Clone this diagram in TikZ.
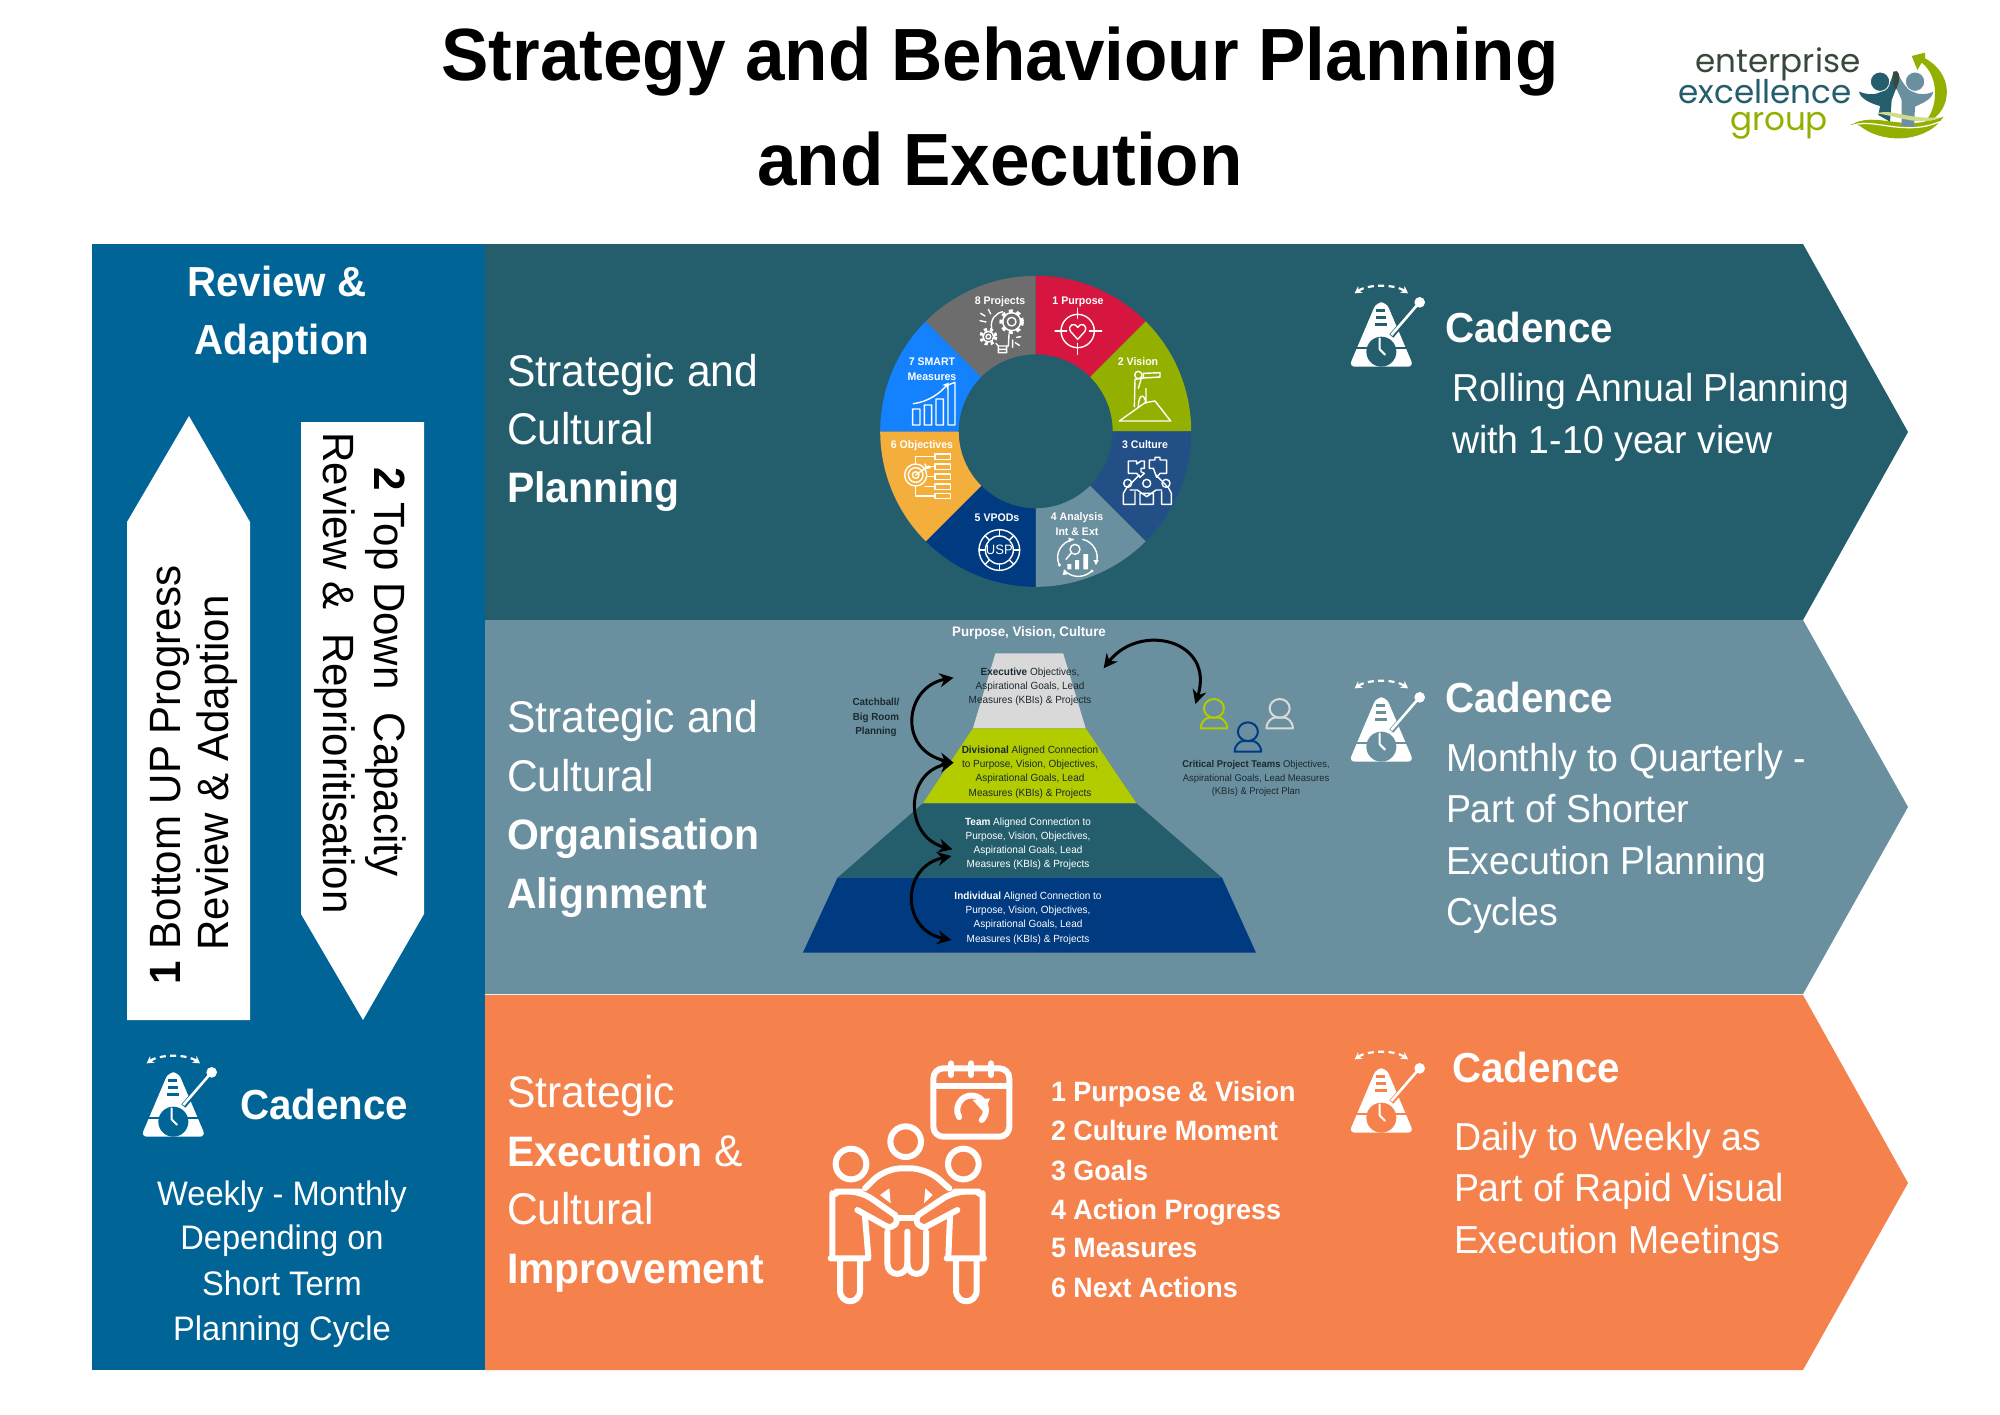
\documentclass[tikz,border=0pt]{standalone}
\usepackage{fontspec}
\setmainfont[FakeStretch=0.96]{Liberation Sans}
\newfontfamily\logofont{Poppins}
\usetikzlibrary{arrows.meta,calc}
\definecolor{leftblue}{HTML}{006496}
\definecolor{bandone}{HTML}{245E6C}
\definecolor{bandtwo}{HTML}{6A8F9F}
\definecolor{bandthree}{HTML}{F5824C}
\definecolor{navy}{HTML}{003A80}
\definecolor{midnavy}{HTML}{234F87}
\definecolor{wred}{HTML}{D6163F}
\definecolor{wgreen}{HTML}{93B000}
\definecolor{wamber}{HTML}{F3AE3C}
\definecolor{wblue}{HTML}{1482FF}
\definecolor{wgrey}{HTML}{6D6D6D}
\definecolor{lime}{HTML}{B2CC00}
\definecolor{pale}{HTML}{D9D9D9}
\definecolor{logodark}{HTML}{36493B}
\definecolor{inkdark}{HTML}{1A2A30}
\newcommand{\hb}[1]{{\fontsize{21.3}{24}\bfseries\selectfont #1}}
\tikzset{
  x=0.5pt,y=-0.5pt,
  base/.style={inner sep=0pt,outer sep=0pt},
  titletext/.style={base,font=\fontsize{37}{40}\bfseries\selectfont,text=black,anchor=mid},
  headtext/.style={base,font=\fontsize{22.2}{24}\selectfont,text=white,anchor=mid west,yshift=-4.6pt},
  cadtext/.style={base,font=\fontsize{21}{24}\bfseries\selectfont,text=white,anchor=mid west,yshift=-4.5pt},
  bodytext/.style={base,font=\fontsize{19.5}{24}\selectfont,text=white,anchor=mid west,yshift=-3.8pt},
  lefttext/.style={base,font=\fontsize{17}{22}\selectfont,text=white,anchor=mid,yshift=-3.4pt},
  listtext/.style={base,font=\fontsize{14}{18}\bfseries\selectfont,text=white,anchor=mid west,yshift=-2.5pt},
  arrowtext/.style={base,font=\fontsize{21.9}{24}\selectfont,text=black,anchor=mid},
  wedgetext/.style={base,font=\fontsize{5.5}{6.5}\bfseries\selectfont,text=white,anchor=mid},
  pyrtext/.style={base,font=\fontsize{5.2}{6}\selectfont,anchor=mid},
  logotext/.style={base,font=\logofont\fontsize{16.3}{18}\selectfont,anchor=base},
  zoomone/.style={shift={(860,260)},x=0.16667pt,y=-0.16667pt},
  zoomtwo/.style={shift={(790,610)},x=0.17857pt,y=-0.16667pt},
  zoomthree/.style={shift={(1660,20)},x=0.16667pt,y=-0.16667pt},
  zoomfive/.style={shift={(800,1040)},x=0.16667pt,y=-0.16667pt},
  iconline/.style={draw=white,line width=0.7pt,line join=round,line cap=round},
  bigicon/.style={draw=white,line width=3pt,line join=round,line cap=round},
  curvearrow/.style={draw=black,line width=1.5pt,{Stealth[length=7pt,width=7pt]}-{Stealth[length=7pt,width=7pt]}},
}
% metronome: drawn in the frame of a 3x crop, #1 = x, #2 = y, #3 = background
\newcommand{\metronome}[3]{%
  \begin{scope}[shift={(#1,#2)},x=0.16667pt,y=-0.16667pt]
    \fill[white,rounded corners=3pt] (145,97) -- (175,97) -- (257,290) -- (63,290) -- cycle;
    \fill[#3] (145,118) rectangle (172,125);
    \fill[#3] (143,139) rectangle (174,146);
    \fill[#3] (140,160) rectangle (178,167);
    \fill[#3] (60,230) rectangle (260,237);
    \draw[#3,line width=2.6pt] (190,198) -- (240,140);
    \fill[#3] (160,245) circle[radius=45];
    \draw[white,line width=1pt,line cap=round,line join=round] (155,205) -- (155,238) -- (171,254);
    \draw[white,line width=1.3pt] (190,195) -- (272,100);
    \fill[white] (275,97) circle[radius=16];
    \draw[white,line width=1.1pt,dash pattern=on 3pt off 2.2pt,{Stealth[length=3.5pt,width=4pt]}-{Stealth[length=3.5pt,width=4pt]}] (80,70) .. controls (120,42) and (200,42) .. (240,70);
  \end{scope}}
\begin{document}
\begin{tikzpicture}
\useasboundingbox (0,0) rectangle (2000,1414);
\fill[white] (0,0) rectangle (2000,1414);
% title
\node[titletext] (title1) at (1000,75.5) {Strategy and Behaviour Planning};
\node[titletext] (title2) at (1000,180.5) {and Execution};
% panels
\fill[leftblue] (92,244) rectangle (485,1370);
\fill[bandone] (485,244) -- (1803,244) -- (1908,432) -- (1803,620) -- (485,620) -- cycle;
\fill[bandtwo] (485,620) -- (1803,620) -- (1908,807) -- (1803,994) -- (485,994) -- cycle;
\fill[bandthree] (485,995) -- (1803,995) -- (1908,1183) -- (1803,1370) -- (485,1370) -- cycle;
% left panel
\node[cadtext,anchor=mid] (rev1) at (277,282) {Review \&};
\node[cadtext,anchor=mid] (rev2) at (282,340) {Adaption};
\fill[white] (189,416) -- (250,522) -- (250,1020) -- (127,1020) -- (127,522) -- cycle;
\fill[white] (301,422) -- (424,422) -- (424,914) -- (363,1020) -- (301,914) -- cycle;
\node[arrowtext,rotate=90] (up1) at (175,775) {\textbf{1} Bottom UP Progress};
\node[arrowtext,rotate=90] (up2) at (223,773) {Review \& Adaption};
\node[arrowtext,rotate=-90] (dn1) at (380,672) {\textbf{2} Top Down\ \ Capacity};
\node[arrowtext,rotate=-90] (dn2) at (329,673) {Review \&\ \ Reprioritisation};
\metronome{120}{1040}{leftblue}
\node[cadtext] (cadL) at (240,1105) {Cadence};
\node[lefttext] (l1) at (282,1193) {Weekly - Monthly};
\node[lefttext] (l2) at (282,1237) {Depending on};
\node[lefttext] (l3) at (282,1283) {Short Term};
\node[lefttext] (l4) at (282,1328) {Planning Cycle};
% band 1 text
\node[headtext] (a1) at (507,372) {Strategic and};
\node[headtext] (a2) at (507,430) {Cultural};
\node[headtext] (a3) at (507,488) {\hb{Planning}};
\metronome{1328}{270}{bandone}
\node[cadtext] (cad1) at (1445,328) {Cadence};
\node[bodytext] (b1) at (1452,389) {Rolling Annual Planning};
\node[bodytext] (b2) at (1452,441) {with 1-10 year view};
% donut
\coordinate (dc) at (1035.7,431.3);
\foreach \k/\c in {0/wred,1/wgreen,2/midnavy,3/bandtwo,4/navy,5/wamber,6/wblue,7/wgrey}{
  \pgfmathsetmacro{\sa}{-90+45*\k}
  \pgfmathsetmacro{\ea}{-45+45*\k}
  \fill[\c] ($(dc)+(\sa:155.5)$) arc[start angle=\sa,end angle=\ea,radius=155.5]
     -- ($(dc)+(\ea:77)$) arc[start angle=\ea,end angle=\sa,radius=77] -- cycle;
}
\node[wedgetext] (w1) at (1078,299) {1 Purpose};
\node[wedgetext] (w2) at (1138,360) {2 Vision};
\node[wedgetext] (w3) at (1145,443) {3 Culture};
\node[wedgetext] (w4a) at (1077,515) {4 Analysis};
\node[wedgetext] (w4b) at (1077,530) {Int \& Ext};
\node[wedgetext] (w5) at (997,516) {5 VPODs};
\node[wedgetext] (w6) at (922,443) {6 Objectives};
\node[wedgetext] (w7a) at (932,360) {7 SMART};
\node[wedgetext] (w7b) at (932,375) {Measures};
\node[wedgetext] (w8) at (1000,299) {8 Projects};
\begin{scope}[zoomone]
  % 1 target + heart
  \draw[iconline] (653,213) circle[radius=50];
  \draw[iconline] (653,145)--(653,175) (653,250)--(653,283) (585,213)--(620,213) (688,213)--(725,213);
  \draw[iconline] (653,238) -- (632,215) .. controls (620,195) and (645,185) .. (653,202) .. controls (661,185) and (686,195) .. (674,215) -- cycle;
  % 2 telescope person + hill
  \draw[iconline] (835,345) circle[radius=11];
  \draw[iconline] (850,340) -- (900,338) -- (900,351) -- (850,354) -- cycle;
  \draw[iconline] (825,358) -- (850,354) (825,358) -- (823,440) (843,358) -- (835,385) (835,440) .. controls (835,405) and (852,395) .. (858,430) (858,385) -- (858,430);
  \draw[iconline] (778,483) -- (855,428) -- (885,423) -- (932,483) -- cycle;
  % 3 puzzle and people
  \draw[iconline] (805,603) -- (830,603) -- (830,612) -- (843,603) -- (853,603) -- (853,625) -- (843,625) -- (843,635) -- (853,640) -- (840,652) -- (830,640) -- (805,640) -- cycle;
  \draw[iconline] (868,600) -- (885,600) -- (885,592) -- (900,592) -- (900,600) -- (920,600) -- (920,640) -- (900,640) -- (890,652) -- (880,625) -- (868,625) -- cycle;
  \draw[iconline] (803,670) circle[radius=12] (860,670) circle[radius=12] (918,670) circle[radius=12];
  \draw[iconline] (790,733) -- (790,700) -- (800,683) -- (838,645) (810,690) -- (832,690) -- (860,710) -- (888,690) -- (905,690) (888,645) -- (925,683) -- (934,700) -- (934,733) -- (905,733) -- (905,695) (825,733) -- (825,695) (790,733) -- (825,733) (840,733) -- (840,700) -- (880,700) -- (880,733) -- cycle;
  % 4 analysis
  \draw[iconline] (645,868) circle[radius=15];
  \draw[iconline] (633,880) -- (618,898);
  \fill[white] (622,912) rectangle (634,928) (645,900) rectangle (657,928) (670,882) rectangle (684,928);
  \draw[iconline] (598,915) .. controls (582,880) and (605,845) .. (640,838);
  \draw[iconline] (668,838) .. controls (700,845) and (720,880) .. (708,910);
  \draw[iconline] (612,930) .. controls (635,955) and (670,955) .. (696,933);
  \fill[white] (598,915) circle[radius=5] (696,933) circle[radius=5] (640,838) -- (625,832) -- (628,846) -- cycle (708,915) -- (700,900) -- (716,900) -- cycle (612,930) -- (608,945) -- (622,943) -- cycle;
  % 5 USP
  \draw[iconline] (418,870) circle[radius=61] (418,870) circle[radius=42];
  \foreach \a in {0,45,...,315}{\draw[iconline] ($(418,870)+(\a:42)$) -- ($(418,870)+(\a:61)$);}
  \node[base,font=\fontsize{6.8}{8}\selectfont,text=white] (usp) at (418,870) {USP};
  % 6 objectives
  \draw[iconline] (167,645) circle[radius=33] (167,645) circle[radius=22] (167,645) circle[radius=10];
  \draw[iconline] (167,645) -- (205,618) (195,612) -- (200,625) -- (212,622);
  \foreach \yy in {590,620,650,680,708}{\draw[iconline] (225,\yy-8) rectangle (272,\yy+8);}
  \draw[iconline] (167,612) -- (167,590) -- (225,590) (205,620) -- (225,620) (200,650) -- (225,650) (195,680) -- (225,680) (167,678) -- (167,708) -- (225,708);
  % 7 measures
  \draw[iconline] (158,447) rectangle (180,495) (193,435) rectangle (215,495) (228,417) rectangle (250,495) (264,375) -- (285,367) -- (285,495) -- (264,495) -- cycle;
  \draw[iconline,-{Stealth[length=3pt,width=3.5pt]}] (160,431) .. controls (205,425) and (240,400) .. (266,368);
  % 8 gears and bulb
  \draw[iconline] (455,185) circle[radius=27] (455,185) circle[radius=13];
  \draw[white,line width=2pt,dash pattern=on 1.9pt off 1.9pt] (455,185) circle[radius=31];
  \draw[iconline] (385,230) circle[radius=16] (385,230) circle[radius=7];
  \draw[white,line width=1.6pt,dash pattern=on 1.5pt off 1.5pt] (385,230) circle[radius=22];
  \draw[iconline] (428,155) .. controls (405,160) and (390,180) .. (395,205);
  \draw[iconline] (408,250) -- (415,258) -- (445,258) -- (447,222) (415,258) -- (415,278) -- (440,278) -- (440,258) (415,268) -- (440,268);
  \draw[iconline] (385,148)--(392,162) (362,160)--(375,168) (360,182)--(378,186) (458,240)--(458,262) (470,232)--(482,230) (466,248)--(478,256);
\end{scope}
% band 2 text
\node[headtext] (c1) at (507,718) {Strategic and};
\node[headtext] (c2) at (507,777) {Cultural};
\node[headtext] (c3) at (507,835) {\hb{Organisation}};
\node[headtext] (c4) at (507,894) {\hb{Alignment}};
\metronome{1328}{665}{bandtwo}
\node[cadtext] (cad2) at (1445,698) {Cadence};
\node[bodytext] (d1) at (1446,759) {Monthly to Quarterly -};
\node[bodytext] (d2) at (1446,810) {Part of Shorter};
\node[bodytext] (d3) at (1446,862) {Execution Planning};
\node[bodytext] (d4) at (1446,913) {Cycles};
% pyramid
\fill[pale] (995.4,653.3) -- (1063.2,653.3) -- (1085.7,728.3) -- (972.9,728.3) -- cycle;
\fill[lime] (972.9,728.3) -- (1085.7,728.3) -- (1136.4,803.3) -- (922.9,803.3) -- cycle;
\fill[bandone] (922.9,803.3) -- (1136.4,803.3) -- (1222,877.7) -- (837.5,877.7) -- cycle;
\fill[navy] (837.5,877.7) -- (1222,877.7) -- (1256,952.7) -- (802.9,952.7) -- cycle;
\node[base,font=\fontsize{6.9}{8}\bfseries\selectfont,text=white] (pvc) at (1029,633) {Purpose, Vision, Culture};
\node[pyrtext,text=inkdark] (e1) at (1030,670) {\textbf{Executive} Objectives,};
\node[pyrtext,text=inkdark] (e2) at (1030,684) {Aspirational Goals, Lead};
\node[pyrtext,text=inkdark] (e3) at (1030,698) {Measures (KBIs) \& Projects};
\node[pyrtext,text=inkdark] (f1) at (1030,748.3) {\textbf{Divisional} Aligned Connection};
\node[pyrtext,text=inkdark] (f2) at (1030,762.7) {to Purpose, Vision, Objectives,};
\node[pyrtext,text=inkdark] (f3) at (1030,776.7) {Aspirational Goals, Lead};
\node[pyrtext,text=inkdark] (f4) at (1030,791) {Measures (KBIs) \& Projects};
\node[pyrtext,text=white] (g1) at (1028,820) {\textbf{Team} Aligned Connection to};
\node[pyrtext,text=white] (g2) at (1028,834) {Purpose, Vision, Objectives,};
\node[pyrtext,text=white] (g3) at (1028,848) {Aspirational Goals, Lead};
\node[pyrtext,text=white] (g4) at (1028,862.3) {Measures (KBIs) \& Projects};
\node[pyrtext,text=white] (h1) at (1028,894) {\textbf{Individual} Aligned Connection to};
\node[pyrtext,text=white] (h2) at (1028,908) {Purpose, Vision, Objectives,};
\node[pyrtext,text=white] (h3) at (1028,922) {Aspirational Goals, Lead};
\node[pyrtext,text=white] (h4) at (1028,936.7) {Measures (KBIs) \& Projects};
\node[pyrtext,text=inkdark,font=\fontsize{5.1}{6}\bfseries\selectfont] (cb1) at (876,700.7) {Catchball/};
\node[pyrtext,text=inkdark,font=\fontsize{5.1}{6}\bfseries\selectfont] (cb2) at (876,715) {Big Room};
\node[pyrtext,text=inkdark,font=\fontsize{5.1}{6}\bfseries\selectfont] (cb3) at (876,729) {Planning};
\node[pyrtext,text=inkdark,font=\fontsize{4.9}{6}\selectfont] (k1) at (1256,762.7) {\textbf{Critical Project Teams} Objectives,};
\node[pyrtext,text=inkdark,font=\fontsize{4.9}{6}\selectfont] (k2) at (1256,776) {Aspirational Goals, Lead Measures};
\node[pyrtext,text=inkdark,font=\fontsize{4.9}{6}\selectfont] (k3) at (1256,789.3) {(KBIs) \& Project Plan};
\begin{scope}[zoomtwo]
  \coordinate (p1) at (458,203);
  \coordinate (p2) at (458,458);
  \coordinate (p3) at (455,718);
  \coordinate (p4) at (452,738);
  \coordinate (p5) at (452,990);
  \coordinate (p6) at (878,175);
  \coordinate (p7) at (1135,282);
  \draw[curvearrow] (p1) .. controls (320,230) and (300,420) .. (p2);
  \draw[curvearrow] (p2) .. controls (320,490) and (320,680) .. (p3);
  \draw[curvearrow] (p4) .. controls (310,770) and (310,960) .. (p5);
  \draw[curvearrow] (p6) .. controls (980,35) and (1190,90) .. (p7);
  \foreach \px/\py/\c in {1187/295/lime,1282/365/navy,1371/295/pale}{
    \draw[\c,line width=1pt] (\px,\py) circle[radius=28];
    \draw[\c,line width=1pt,line join=round] (\px-37,\py+60) .. controls (\px-37,\py+38) and (\px-20,\py+28) .. (\px-14,\py+28) -- (\px+14,\py+28) .. controls (\px+20,\py+28) and (\px+37,\py+38) .. (\px+37,\py+60) -- cycle;
  }
\end{scope}
% band 3 text
\node[headtext] (m1) at (507,1093) {Strategic};
\node[headtext] (m2) at (507,1152) {\hb{Execution} \&};
\node[headtext] (m3) at (507,1210) {Cultural};
\node[headtext] (m4) at (507,1269) {\hb{Improvement}};
\node[listtext] (n1) at (1051,1091) {1 Purpose \& Vision};
\node[listtext] (n2) at (1051,1130) {2 Culture Moment};
\node[listtext] (n3) at (1051,1170) {3 Goals};
\node[listtext] (n4) at (1051,1209) {4 Action Progress};
\node[listtext] (n5) at (1051,1247) {5 Measures};
\node[listtext] (n6) at (1051,1287) {6 Next Actions};
\metronome{1328}{1036}{bandthree}
\node[cadtext] (cad3) at (1452,1068) {Cadence};
\node[bodytext] (q1) at (1454,1138) {Daily to Weekly as};
\node[bodytext] (q2) at (1454,1189) {Part of Rapid Visual};
\node[bodytext] (q3) at (1454,1241) {Execution Meetings};
\begin{scope}[zoomfive]
  \draw[bigicon,rounded corners=5pt] (400,85) rectangle (628,290);
  \draw[bigicon] (400,138) -- (628,138);
  \draw[bigicon] (453,70)--(453,105) (513,70)--(513,105) (573,70)--(573,105);
  \draw[bigicon] (545,240) arc[start angle=45,end angle=-210,radius=43] ;
  \fill[white] (518,180) -- (570,175) -- (552,218) -- cycle;
  \draw[bigicon] (153,372) circle[radius=46] (317,305) circle[radius=46] (490,372) circle[radius=46];
  % centre person
  \draw[bigicon,rounded corners=8pt] (195,445) -- (255,385) -- (380,385) -- (448,445);
  \draw[bigicon] (262,575) -- (262,670) .. controls (262,712) and (322,712) .. (322,670) -- (322,575);
  \draw[bigicon] (322,670) .. controls (322,712) and (378,712) .. (378,670) -- (378,575);
  % left person
  \draw[bigicon,rounded corners=6pt] (97,650) -- (97,495) .. controls (97,470) and (120,455) .. (145,455) -- (185,455) -- (285,525);
  \draw[bigicon] (285,525) .. controls (300,545) and (280,570) .. (258,558) -- (172,510);
  \draw[bigicon] (195,530) -- (205,650) (92,655) -- (205,655);
  \draw[bigicon] (120,660) -- (120,750) .. controls (120,795) and (180,795) .. (180,750) -- (180,660);
  % right person
  \draw[bigicon,rounded corners=6pt] (548,650) -- (548,495) .. controls (548,470) and (525,455) .. (500,455) -- (460,455) -- (355,525);
  \draw[bigicon] (355,525) .. controls (340,545) and (360,570) .. (382,558) -- (472,510);
  \draw[bigicon] (450,530) -- (445,650) (440,655) -- (552,655);
  \draw[bigicon] (468,660) -- (468,750) .. controls (468,795) and (530,795) .. (530,750) -- (530,660);
  \draw[bigicon] (295,535) -- (345,535);
  \fill[white] (240,465) -- (268,445) -- (272,490) -- cycle (398,465) -- (376,445) -- (372,490) -- cycle;
\end{scope}
% logo
\node[logotext,text=logodark] (lg1) at (1778,72) {enterprise};
\node[logotext,text=bandone] (lg2) at (1765,103) {excellence};
\node[logotext,text=wgreen] (lg3) at (1779,130) {group};
\begin{scope}[zoomthree]
  \fill[wgreen] (795,98) -- (755,108) -- (772,150) -- (785,128) .. controls (840,170) and (835,270) .. (790,310) .. controls (870,290) and (895,170) .. (795,115) -- cycle;
  \fill[wgreen] (572,315) .. controls (650,270) and (720,340) .. (850,290) .. controls (810,360) and (680,380) .. (600,318) .. controls (590,312) and (580,312) .. (572,315) -- cycle;
  \draw[white,line width=0.6pt] (580,315) .. controls (650,295) and (730,350) .. (840,305);
  \fill[bandtwo] (820,215) .. controls (775,235) and (735,215) .. (712,155) -- (700,185) -- (725,240) -- (725,318) -- (762,320) -- (765,260) .. controls (785,250) and (815,240) .. (820,215) -- cycle;
  \fill[bandone] (597,215) .. controls (650,235) and (690,215) .. (700,155) -- (716,185) -- (695,240) -- (690,305) -- (655,285) -- (660,258) .. controls (630,250) and (600,235) .. (597,215) -- cycle;
  \fill[logodark] (700,155) .. controls (715,145) and (722,170) .. (716,185) -- (708,210) -- (700,190) -- cycle;
  \fill[bandone,draw=white,line width=0.4pt] (660,185) circle[radius=29];
  \fill[bandtwo,draw=white,line width=0.4pt] (765,185) circle[radius=29];
  \fill[wgreen!45] (650,280) .. controls (700,265) and (740,300) .. (840,292) .. controls (780,320) and (720,290) .. (650,280) -- cycle;
\end{scope}
\end{tikzpicture}
\end{document}
